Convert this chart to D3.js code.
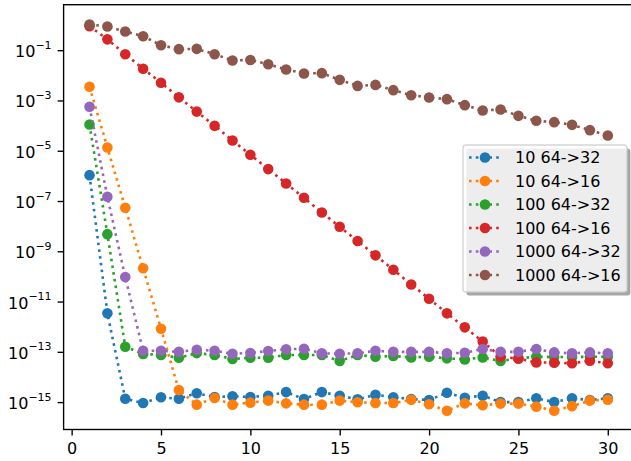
<!DOCTYPE html>
<html>
<head>
<meta charset="utf-8">
<script src="https://cdn.jsdelivr.net/npm/d3@7"></script>
<style>
  body { margin: 0; background: #fff; }
  svg { display: block; font-family: "DejaVu Sans", sans-serif; }
</style>
</head>
<body>
<script>
// iteration index
const iters = d3.range(1, 31);

// series values
const blue10_32 = [1.07e-6, 3.4e-12, 1.36e-15, 9.2e-16, 1.55e-15, 1.36e-15, 2.24e-15, 1.6e-15, 1.7e-15, 1.6e-15,
  1.8e-15, 2.5e-15, 1.33e-15, 2.5e-15, 1.8e-15, 1.29e-15, 1.97e-15, 1.55e-15, 1.33e-15, 1.21e-15,
  2.36e-15, 1.5e-15, 1.8e-15, 1.0e-15, 1.0e-15, 1.41e-15, 1.0e-15, 1.41e-15, 1.21e-15, 1.41e-15];
const orange10_16 = [3.5e-3, 1.35e-5, 5.4e-8, 2.1e-10, 8.3e-13, 3.0e-15, 7.9e-16, 1.45e-15, 7.9e-16, 9.5e-16,
  1.15e-15, 8.9e-16, 7.9e-16, 7.9e-16, 1.15e-15, 9.8e-16, 9.2e-16, 9.2e-16, 1.24e-15, 8.2e-16,
  4.55e-16, 8.9e-16, 7.5e-16, 8.7e-16, 8.7e-16, 6.6e-16, 4.55e-16, 6.9e-16, 1.15e-15, 1.24e-15];
const green100_32 = [1.11e-4, 4.8e-9, 1.6e-13, 8.2e-14, 7.5e-14, 5.8e-14, 8.9e-14, 7.5e-14, 5.2e-14, 5.8e-14,
  5.8e-14, 7.5e-14, 7.5e-14, 7.5e-14, 4.3e-14, 7.5e-14, 6.4e-14, 6.8e-14, 6.0e-14, 6.4e-14,
  5.5e-14, 5.0e-14, 6.0e-14, 4.3e-14, 5.5e-14, 6.4e-14, 6.2e-14, 6.2e-14, 6.4e-14, 6.4e-14];
const red100_16 = [0.9, 0.27, 0.069, 0.0184, 5.1e-3, 1.33e-3, 3.6e-4, 9.8e-5, 2.57e-5, 6.9e-6,
  1.86e-6, 5.0e-7, 1.34e-7, 3.5e-8, 9.4e-9, 2.55e-9, 6.9e-10, 1.84e-10, 4.8e-11, 1.29e-11,
  3.4e-12, 9.4e-13, 2.57e-13, 6.4e-14, 5.3e-14, 3.8e-14, 3.7e-14, 3.5e-14, 4.4e-14, 3.5e-14];
const purple1000_32 = [5.6e-4, 1.47e-7, 9.4e-11, 1.1e-13, 1.1e-13, 1.0e-13, 1.21e-13, 1.1e-13, 8.4e-14, 9.0e-14,
  1.08e-13, 1.26e-13, 1.33e-13, 8.7e-14, 8.4e-14, 8.7e-14, 1.1e-13, 1.0e-13, 1.0e-13, 1.0e-13,
  8.7e-14, 9.2e-14, 1.29e-13, 1.0e-13, 1.0e-13, 1.29e-13, 9.5e-14, 8.7e-14, 9.5e-14, 8.7e-14];
const brown1000_16 = [1.05, 0.875, 0.555, 0.36, 0.158, 0.11, 0.113, 0.069, 0.039, 0.041,
  0.0277, 0.0171, 0.0119, 0.0122, 6.6e-3, 3.8e-3, 4.17e-3, 2.57e-3, 1.62e-3, 1.32e-3,
  1.13e-3, 6.5e-4, 4.0e-4, 4.4e-4, 2.44e-4, 1.55e-4, 1.37e-4, 1.07e-4, 6.6e-5, 4.05e-5];

const labels = ["10 64->32", "10 64->16", "100 64->32", "100 64->16", "1000 64->32", "1000 64->16"];
const colors = ["#1f77b4", "#ff7f0e", "#2ca02c", "#d62728", "#9467bd", "#8c564b"];
const seriesValues = [blue10_32, orange10_16, green100_32, red100_16, purple1000_32, brown1000_16];

const xTicks = [0, 5, 10, 15, 20, 25, 30];
const yTickExps = [-1, -3, -5, -7, -9, -11, -13, -15];

const W = 631, H = 461;
const plot = { left: 63.6, right: 633.7, top: 4.7, bottom: 429.5 };

const svg = d3.select("body").append("svg")
  .attr("width", W)
  .attr("height", H);

const x = d3.scaleLinear().domain([-0.45, 31.45]).range([plot.left, plot.right]);
const y = d3.scaleLog().domain([Math.pow(10, -16.09), Math.pow(10, 0.81)]).range([plot.bottom, plot.top]);

// series: line then markers, in plotting order
const line = d3.line()
  .x((d, i) => x(iters[i]))
  .y(d => y(d));

seriesValues.forEach((vals, k) => {
  const g = svg.append("g").attr("class", "series");
  g.append("path")
    .attr("d", line(vals))
    .attr("fill", "none")
    .attr("stroke", colors[k])
    .attr("stroke-width", 2.6)
    .attr("stroke-dasharray", "2.6,4.2");
  g.selectAll("circle")
    .data(vals)
    .join("circle")
    .attr("cx", (d, i) => x(iters[i]))
    .attr("cy", d => y(d))
    .attr("r", 5.3)
    .attr("fill", colors[k]);
});

// axes
const xAxis = svg.append("g")
  .attr("transform", `translate(0,${plot.bottom})`)
  .call(d3.axisBottom(x).tickValues(xTicks).tickSize(6).tickPadding(7).tickSizeOuter(0));
xAxis.select(".domain").remove();
xAxis.selectAll("text").attr("font-size", 16).attr("font-family", "DejaVu Sans").attr("fill", "#000");
xAxis.selectAll("line").attr("stroke-width", 1.37);

const yAxis = svg.append("g")
  .attr("transform", `translate(${plot.left},0)`)
  .call(d3.axisLeft(y).tickValues(yTickExps.map(e => Math.pow(10, e))).tickSize(6).tickFormat(() => ""));
yAxis.select(".domain").remove();
yAxis.selectAll("line").attr("stroke-width", 1.37);
yAxis.selectAll(".tick text").each(function(d) {
  const t = d3.select(this);
  const e = Math.round(Math.log10(d));
  t.text(null)
    .attr("x", -12)
    .attr("dy", null)
    .attr("y", 6.5)
    .attr("text-anchor", "end")
    .attr("fill", "#000")
    .attr("font-family", "DejaVu Sans");
  t.append("tspan").attr("font-size", 16).text("10");
  t.append("tspan").attr("font-size", 11).attr("dy", -8.5).text("\u2212" + Math.abs(e));
});

// spines
svg.append("rect")
  .attr("x", plot.left).attr("y", plot.top)
  .attr("width", plot.right - plot.left).attr("height", plot.bottom - plot.top)
  .attr("fill", "none").attr("stroke", "#000").attr("stroke-width", 1.37);

// legend
const leg = { x: 463, y: 145, w: 164, h: 147 };
const legend = svg.append("g");
legend.append("rect")
  .attr("x", leg.x + 3.4).attr("y", leg.y + 3.4)
  .attr("width", leg.w).attr("height", leg.h)
  .attr("rx", 3)
  .attr("fill", "#4d4d4d").attr("fill-opacity", 0.5);
legend.append("rect")
  .attr("x", leg.x).attr("y", leg.y)
  .attr("width", leg.w).attr("height", leg.h)
  .attr("rx", 3)
  .attr("fill", "#fff").attr("fill-opacity", 0.8)
  .attr("stroke", "#ccc").attr("stroke-opacity", 0.8).attr("stroke-width", 1.37);

labels.forEach((lab, k) => {
  const cy = 157.5 + k * 23.5;
  legend.append("line")
    .attr("x1", 469).attr("x2", 501).attr("y1", cy).attr("y2", cy)
    .attr("stroke", colors[k]).attr("stroke-width", 2.6)
    .attr("stroke-dasharray", "2.6,4.2");
  legend.append("circle")
    .attr("cx", 485).attr("cy", cy).attr("r", 5.3)
    .attr("fill", colors[k]);
  legend.append("text")
    .attr("x", 515).attr("y", cy + 5.8)
    .attr("font-size", 16)
    .attr("fill", "#000")
    .text(lab);
});
</script>
</body>
</html>
